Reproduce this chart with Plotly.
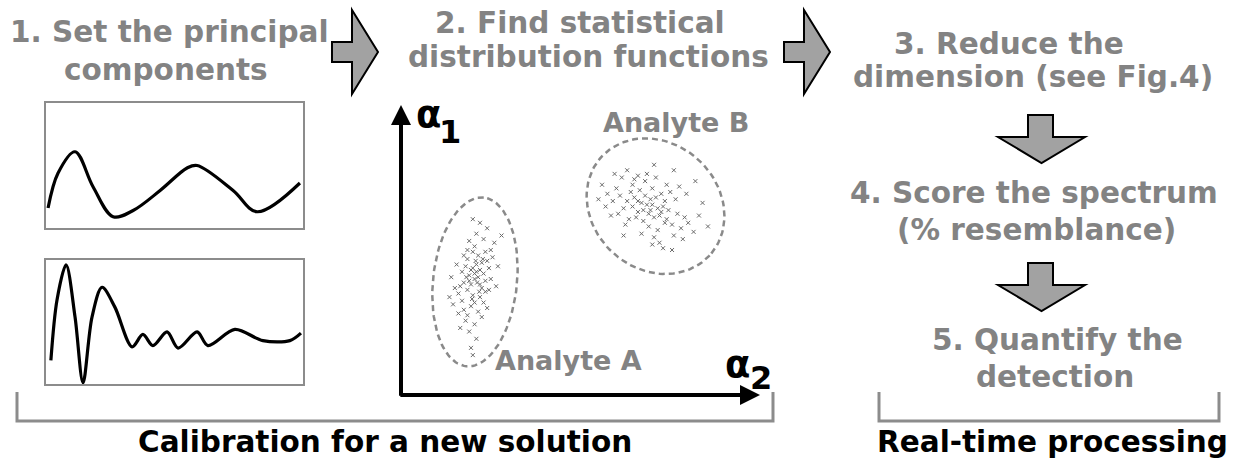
import math
import plotly.graph_objects as go

W, H = 1238, 467

# ---------------- data ----------------
# principal component 1 (arbitrary units)
pc1_x = [0.08, 0.47, 1.13, 1.83, 2.61, 3.39, 4.44, 5.49, 5.88, 7.28, 8.21, 9.88]
pc1_y = [0.16, 0.44, 0.61, 0.33, 0.09, 0.14, 0.30, 0.48, 0.50, 0.30, 0.13, 0.36]
# principal component 2
pc2_x = [0.19, 0.43, 0.78, 1.13, 1.44, 1.79, 2.18, 2.68, 3.35, 3.77, 4.16, 4.71,
         5.14, 5.88, 6.30, 7.35, 8.44, 9.49, 9.92]
pc2_y = [0.19, 0.68, 0.96, 0.54, 0.01, 0.54, 0.78, 0.62, 0.30, 0.40, 0.31, 0.42,
         0.29, 0.42, 0.31, 0.44, 0.35, 0.35, 0.41]

# analyte A scores (alpha2, alpha1)
a_alpha2 = [2.05, 1.95, 2.20, 1.85, 2.10, 2.30, 1.75, 2.00, 2.15, 1.90,
            2.40, 1.70, 2.25, 2.05, 1.80, 2.35, 1.95, 2.10, 2.50, 1.65,
            2.00, 2.20, 1.85, 2.45, 1.60, 2.30, 2.05, 1.90, 2.15, 2.55,
            1.75, 2.00, 2.35, 1.85, 2.10, 1.50, 2.25, 1.95, 2.40, 1.70,
            2.60, 1.45, 2.05, 2.20, 1.80, 2.30, 1.55, 2.70, 1.90, 2.15,
            2.00, 2.45, 1.40, 2.10, 1.85, 2.35, 1.65, 2.25, 2.80, 1.95,
            2.05, 1.75, 2.50, 2.20, 1.35, 2.00, 2.40, 1.60, 2.65, 1.90,
            2.12, 1.98, 2.28, 1.82, 2.18, 2.08]
a_alpha1 = [3.20, 3.45, 3.05, 2.90, 3.60, 3.35, 3.10, 2.75, 3.85, 3.30,
            3.70, 2.60, 2.95, 4.10, 3.55, 3.15, 2.45, 3.40, 4.00, 3.00,
            3.95, 2.70, 3.75, 3.50, 2.80, 4.30, 2.55, 3.15, 3.25, 3.80,
            2.35, 3.50, 2.85, 2.20, 4.45, 2.95, 3.65, 3.05, 4.60, 3.40,
            4.20, 2.50, 1.95, 4.75, 2.05, 2.55, 3.60, 3.55, 1.75, 2.30,
            4.85, 2.90, 3.25, 1.55, 4.00, 3.95, 1.85, 2.15, 4.40, 1.30,
            3.35, 3.85, 3.20, 3.45, 2.70, 1.10, 2.40, 2.25, 3.00, 4.25,
            3.10, 2.65, 3.75, 3.25, 2.85, 3.70]
# analyte B scores
b_alpha2 = [6.95, 6.70, 7.20, 6.50, 7.40, 6.85, 7.05, 6.60, 7.30, 6.40,
            7.55, 6.75, 7.10, 6.30, 7.70, 6.90, 7.25, 6.55, 7.00, 6.20,
            7.80, 6.65, 7.45, 6.10, 7.15, 6.80, 7.60, 6.35, 7.35, 6.00,
            7.90, 6.45, 7.50, 5.90, 7.05, 6.60, 8.00, 6.25, 7.65, 5.75,
            7.20, 6.85, 8.15, 6.05, 7.40, 5.60, 7.00, 6.50, 8.30, 5.85,
            7.75, 6.15, 7.30, 6.95, 8.40, 5.50, 6.70, 7.85, 6.30, 7.10,
            5.70, 7.55, 6.90, 7.15, 6.60, 7.35, 6.80, 7.00, 6.75, 7.25,
            6.45, 7.95, 5.95, 8.55, 6.20, 7.60, 7.05, 8.20]
b_alpha1 = [5.10, 5.30, 4.95, 5.45, 4.85, 5.25, 4.90, 5.05, 5.20, 5.60,
            4.70, 4.80, 5.45, 5.35, 5.00, 4.65, 5.55, 4.90, 5.70, 5.15,
            4.60, 5.65, 5.10, 5.50, 4.55, 5.90, 4.40, 4.85, 5.35, 5.70,
            4.90, 5.20, 5.60, 5.35, 4.35, 6.05, 4.75, 4.70, 5.40, 5.55,
            4.20, 6.10, 4.50, 5.00, 5.80, 5.80, 4.15, 5.95, 4.95, 4.95,
            5.75, 6.00, 4.05, 5.40, 5.30, 5.40, 4.45, 4.30, 6.20, 6.00,
            5.20, 4.00, 5.00, 5.15, 5.35, 4.75, 5.50, 5.25, 5.10, 5.05,
            5.80, 5.55, 6.10, 4.65, 4.40, 6.20, 6.35, 5.90]

# fitted distributions: centre (alpha2, alpha1), semi-axes, tilt (deg)
ellipse_a = dict(cx=2.06, cy=3.12, a=2.34, b=1.17, angle=84)
ellipse_b = dict(cx=7.09, cy=5.21, a=2.03, b=1.75, angle=-40)

# texts: (text, centre x px, baseline y px)
step_lines = [
    ("1. Set the principal", 170, 42), ("components", 166, 80),
    ("2. Find statistical", 580, 33), ("distribution functions", 588, 67),
    ("3. Reduce the", 1009, 54), ("dimension (see Fig.4)", 1033, 87),
    ("4. Score the spectrum", 1034, 203), ("(% resemblance)", 1036, 240),
    ("5. Quantify the", 1057, 350), ("detection", 1055, 387),
]
group_labels = [("Calibration for a new solution", 385, 452),
                ("Real-time processing", 1052, 452)]

# ---------------- helpers ----------------
FONT = "DejaVu Sans"
GRAY_TXT = "#838383"
GRAY_LINE = "#8c8c8c"
ARROW_FILL = "#a2a2a2"


def px(x):
    return x / W


def py(y):
    return 1 - y / H


def ell_path(e, n=120):
    pts = []
    th = math.radians(e["angle"])
    for i in range(n + 1):
        t = 2 * math.pi * i / n
        u, v = e["a"] * math.cos(t), e["b"] * math.sin(t)
        pts.append((e["cx"] + u * math.cos(th) - v * math.sin(th),
                    e["cy"] + u * math.sin(th) + v * math.cos(th)))
    return pts


fig = go.Figure()

fig.add_trace(go.Scatter(x=pc1_x, y=pc1_y, mode="lines",
                         line=dict(color="black", width=3.2, shape="spline", smoothing=1.0),
                         xaxis="x", yaxis="y", hoverinfo="skip"))
fig.add_trace(go.Scatter(x=pc2_x, y=pc2_y, mode="lines",
                         line=dict(color="black", width=3.2, shape="spline", smoothing=0.9),
                         xaxis="x2", yaxis="y2", hoverinfo="skip"))

for e in (ellipse_a, ellipse_b):
    pts = ell_path(e)
    fig.add_trace(go.Scatter(x=[p[0] for p in pts], y=[p[1] for p in pts],
                             mode="lines", xaxis="x3", yaxis="y3", hoverinfo="skip",
                             line=dict(color="#8a8a8a", width=2.5, dash="6px,4px")))

mk = dict(symbol="x-thin", size=4, line=dict(width=1, color="#6a6a6a"))
fig.add_trace(go.Scatter(x=a_alpha2, y=a_alpha1, mode="markers", marker=mk,
                         xaxis="x3", yaxis="y3"))
fig.add_trace(go.Scatter(x=b_alpha2, y=b_alpha1, mode="markers", marker=mk,
                         xaxis="x3", yaxis="y3"))

box_axis = dict(range=[0, 10], showgrid=False, zeroline=False, showticklabels=False,
                ticks="", showline=True, mirror=True, linecolor=GRAY_LINE, linewidth=2,
                fixedrange=True)
box_yaxis = dict(box_axis, range=[0, 1])
hidden = dict(visible=False, showgrid=False, zeroline=False, fixedrange=True)

fig.update_layout(
    width=W, height=H, margin=dict(l=0, r=0, t=0, b=0),
    paper_bgcolor="white", plot_bgcolor="white", showlegend=False,
    xaxis=dict(box_axis, domain=[px(46), px(303)], anchor="y"),
    yaxis=dict(box_yaxis, domain=[py(228), py(103)], anchor="x"),
    xaxis2=dict(box_axis, domain=[px(46), px(303)], anchor="y2"),
    yaxis2=dict(box_yaxis, domain=[py(384), py(260)], anchor="x2"),
    xaxis3=dict(hidden, range=[0, 10], domain=[px(401), px(760)], anchor="y3"),
    yaxis3=dict(hidden, range=[0, 8], domain=[py(395), py(105)], anchor="x3"),
)

ann = []
# scatter-plot axes as arrows
ann.append(dict(x=10, y=0, ax=-0.06, ay=0, xref="x3", yref="y3", axref="x3", ayref="y3",
                text="", showarrow=True, arrowhead=2, arrowsize=1, arrowwidth=4,
                arrowcolor="black", standoff=0))
ann.append(dict(x=0, y=8, ax=0, ay=-0.06, xref="x3", yref="y3", axref="x3", ayref="y3",
                text="", showarrow=True, arrowhead=2, arrowsize=1, arrowwidth=4,
                arrowcolor="black", standoff=0))


def txt(s, cx, base, size, color, bold=True):
    return dict(x=px(cx), y=py(base - 0.346 * size), xref="paper", yref="paper",
                text=f"<b>{s}</b>" if bold else s, showarrow=False,
                xanchor="center", yanchor="middle",
                font=dict(family=FONT, size=size, color=color))


for s, cx, b in step_lines:
    ann.append(txt(s, cx, b, 29.5, GRAY_TXT))
for s, cx, b in group_labels:
    ann.append(txt(s, cx, b, 29.5, "black"))

ann.append(txt("Analyte B", 676, 132, 27, GRAY_TXT))
ann.append(txt("Analyte A", 568, 370, 27, GRAY_TXT))
ann.append(txt("α", 428, 127, 37, "black"))
ann.append(txt("1", 450, 143, 32, "black"))
ann.append(txt("α", 737, 377, 37, "black"))
ann.append(txt("2", 761, 389, 32, "black"))

fig.update_layout(annotations=ann)


def path(points):
    return "M " + " L ".join(f"{px(x):.5f},{py(y):.5f}" for x, y in points) + " Z"


def open_path(points):
    return "M " + " L ".join(f"{px(x):.5f},{py(y):.5f}" for x, y in points)


shapes = []
for x0 in (332, 784):
    shapes.append(dict(type="path", xref="paper", yref="paper",
                       path=path([(x0, 42), (x0 + 20, 42), (x0 + 20, 10), (x0 + 46, 52),
                                  (x0 + 20, 94), (x0 + 20, 62), (x0, 62)]),
                       fillcolor=ARROW_FILL, line=dict(color="black", width=2)))
for y0 in (115, 263):
    shapes.append(dict(type="path", xref="paper", yref="paper",
                       path=path([(1028, y0), (1053, y0), (1053, y0 + 22), (1085, y0 + 22),
                                  (1041.5, y0 + 48), (998, y0 + 22), (1028, y0 + 22)]),
                       fillcolor=ARROW_FILL, line=dict(color="black", width=2)))
for xl, xr in ((17, 773), (879, 1219)):
    shapes.append(dict(type="path", xref="paper", yref="paper",
                       path=open_path([(xl, 392), (xl, 421), (xr, 421), (xr, 392)]),
                       line=dict(color=GRAY_LINE, width=3)))
fig.update_layout(shapes=shapes)

fig.write_html("out.html", config={"displayModeBar": False},
               post_script="document.body.style.margin='0';document.body.style.overflow='hidden';")
